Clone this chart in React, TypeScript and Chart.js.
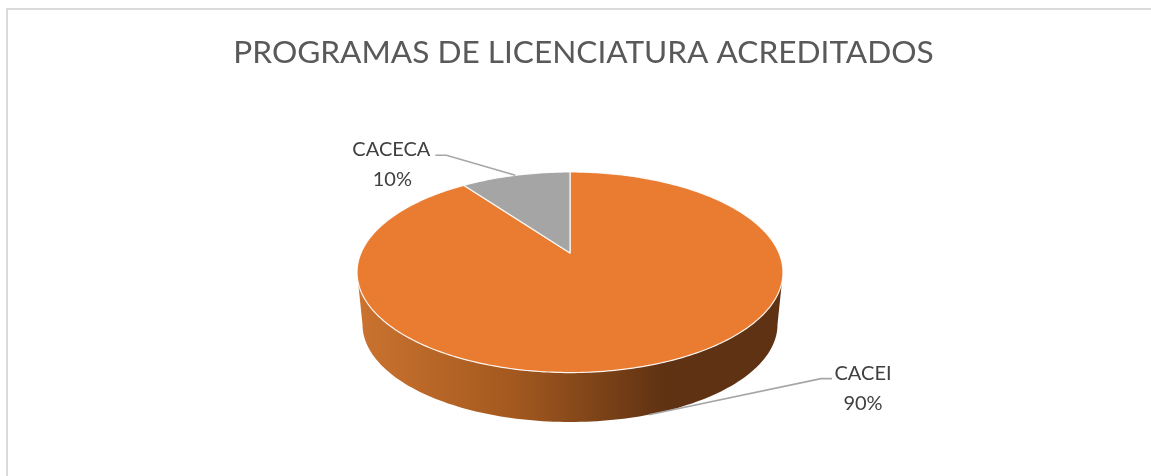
import React, { useEffect, useRef } from "react";
import { Chart, registerables } from "chart.js";

Chart.register(...registerables);

const categories = ["CACEI", "CACECA"];
const seriesValues = [90, 10];
const percentLabels = ["90%", "10%"];
const sliceColors = ["#EA7C32", "#A5A5A5"];
const titleText = "PROGRAMAS DE LICENCIATURA ACREDITADOS";

const FONT = "Lato, 'Open Sans', sans-serif";

// projective mapping of the unit disc onto the tilted top face
const CX = 570;
const APEX_Y = 253;
const K = 0.192;
const A = 209;
const B = 96.6;
const project = (u: number, v: number) => {
  const w = 1 - K * v;
  return { x: CX + (A * u) / w, y: APEX_Y + (B * v) / w };
};
// lower rim of the disc
const BASE_CY = 324.6;
const BASE_RX = 207.5;
const BASE_RY = 97.4;

const tracePolar = (ctx: CanvasRenderingContext2D, a0: number, a1: number, first: boolean) => {
  const steps = Math.max(8, Math.ceil(Math.abs(a1 - a0) * 60));
  for (let i = 0; i <= steps; i++) {
    const a = a0 + ((a1 - a0) * i) / steps;
    const p = project(Math.cos(a), Math.sin(a));
    if (i === 0 && first) ctx.moveTo(p.x, p.y);
    else ctx.lineTo(p.x, p.y);
  }
};

const tiltedPie = {
  id: "tiltedPie",
  beforeDraw(chart: any) {
    const { ctx, width, height } = chart;
    ctx.save();
    ctx.fillStyle = "#DADADA";
    ctx.fillRect(6, 8, width - 6, 2);
    ctx.fillRect(6, 8, 2, height - 8);
    ctx.restore();
  },
  beforeDatasetDraw(chart: any, args: any) {
    const { ctx } = chart;
    const arcs = args.meta.data;

    // side wall
    const tangent = Math.atan2(K, 1); // where the disc reaches its widest point
    const grad = ctx.createLinearGradient(358, 0, 665, 0);
    grad.addColorStop(0, "#CB7330");
    grad.addColorStop(0.5, "#A4591F");
    grad.addColorStop(1, "#5F3213");
    ctx.save();
    ctx.beginPath();
    tracePolar(ctx, tangent, Math.PI - tangent, true);
    for (let i = 0; i <= 120; i++) {
      const a = Math.PI - (Math.PI * i) / 120;
      ctx.lineTo(CX + BASE_RX * Math.cos(a), BASE_CY + BASE_RY * Math.sin(a));
    }
    ctx.closePath();
    ctx.fillStyle = grad;
    ctx.fill();
    ctx.restore();

    // top face, from the angles that the pie controller computed
    arcs.forEach((arc: any) => {
      const { startAngle, endAngle } = arc.getProps(["startAngle", "endAngle"], true);
      ctx.save();
      ctx.beginPath();
      ctx.moveTo(CX, APEX_Y);
      tracePolar(ctx, startAngle, endAngle, false);
      ctx.closePath();
      ctx.fillStyle = arc.options.backgroundColor;
      ctx.fill();
      ctx.lineWidth = 1.2;
      ctx.strokeStyle = "rgba(255,255,255,0.9)";
      ctx.lineJoin = "round";
      ctx.stroke();
      ctx.restore();
    });
    return false;
  },
  afterDatasetsDraw(chart: any) {
    const { ctx } = chart;
    const arcs = chart.getDatasetMeta(0).data;
    const mid = (arc: any) => {
      const { startAngle, endAngle } = arc.getProps(["startAngle", "endAngle"], true);
      return (startAngle + endAngle) / 2;
    };
    const a0 = mid(arcs[0]);
    const a1 = mid(arcs[1]);
    const tip0 = {
      x: project(Math.cos(a0), Math.sin(a0)).x,
      y: 0,
    };
    tip0.y = BASE_CY + BASE_RY * Math.sqrt(1 - ((tip0.x - CX) / BASE_RX) ** 2);
    const tip1 = project(Math.cos(a1), Math.sin(a1));

    ctx.save();
    ctx.strokeStyle = "#A6A6A6";
    ctx.lineWidth = 1.6;
    ctx.beginPath();
    ctx.moveTo(tip0.x, tip0.y);
    ctx.lineTo(tip0.x + 172, tip0.y - 36);
    ctx.lineTo(tip0.x + 183, tip0.y - 36);
    ctx.stroke();
    ctx.beginPath();
    ctx.moveTo(tip1.x, tip1.y);
    ctx.lineTo(tip1.x - 69, tip1.y - 20);
    ctx.lineTo(tip1.x - 80, tip1.y - 20);
    ctx.stroke();

    ctx.fillStyle = "#404040";
    ctx.font = `20px ${FONT}`;
    ctx.textAlign = "center";
    ctx.textBaseline = "middle";
    ctx.fillText(categories[0], tip0.x + 214, tip0.y - 41);
    ctx.fillText(percentLabels[0], tip0.x + 214, tip0.y - 11);
    ctx.fillText(categories[1], tip1.x - 124, tip1.y - 26);
    ctx.fillText(percentLabels[1], tip1.x - 123, tip1.y + 4);
    ctx.restore();
  },
};

export default function App() {
  const ref = useRef<HTMLCanvasElement>(null);
  useEffect(() => {
    const chart = new Chart(ref.current!, {
      type: "pie",
      data: {
        labels: categories,
        datasets: [{ data: seriesValues, backgroundColor: sliceColors, borderWidth: 0 }],
      },
      options: {
        responsive: false,
        animation: false,
        layout: { padding: { left: 16 } },
        plugins: {
          legend: { display: false },
          tooltip: { enabled: false },
          title: {
            display: true,
            text: titleText,
            color: "#595959",
            fullSize: false,
            font: { family: FONT, size: 31.6, weight: "normal" },
            padding: { top: 34, bottom: 10 },
          },
        },
      },
      plugins: [tiltedPie],
    } as any);
    return () => chart.destroy();
  }, []);
  return (
    <div style={{ position: "fixed", left: 0, top: 0, width: 1151, height: 476, background: "#fff" }}>
      <canvas ref={ref} width={1151} height={476} style={{ display: "block" }} />
    </div>
  );
}
